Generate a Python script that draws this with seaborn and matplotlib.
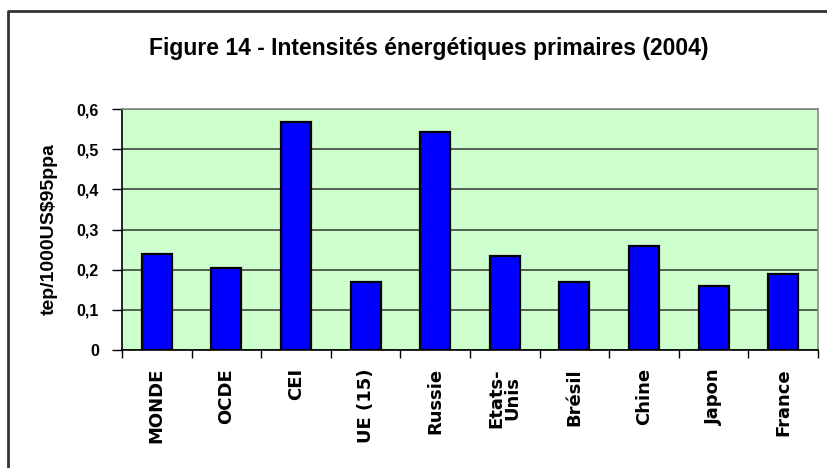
import matplotlib
matplotlib.use("Agg")
import matplotlib.pyplot as plt
from matplotlib.lines import Line2D
from matplotlib.ticker import FixedLocator, FuncFormatter
import pandas as pd
import seaborn as sns

# Données
pays = ["MONDE", "OCDE", "CEI", "UE (15)", "Russie", "Etats-\nUnis",
        "Brésil", "Chine", "Japon", "France"]
intensites = [0.238, 0.203, 0.568, 0.169, 0.543, 0.233, 0.169, 0.258, 0.159, 0.189]
graduations_y = [0, 0.1, 0.2, 0.3, 0.4, 0.5, 0.6]

titre = "Figure 14 - Intensités énergétiques primaires (2004)"
label_y = "tep/1000US$95ppa"

sns.set_style("white")
plt.rcParams["font.family"] = ["Liberation Sans", "DejaVu Sans"]
plt.rcParams["text.color"] = "black"
plt.rcParams["axes.labelcolor"] = "black"
plt.rcParams["xtick.color"] = "black"
plt.rcParams["ytick.color"] = "black"

df = pd.DataFrame({"pays": pays, "intensite": intensites})

fig = plt.figure(figsize=(8.28, 4.68), dpi=100)
ax = fig.add_axes([122 / 828, 1 - 350 / 468, (818 - 122) / 828, (350 - 109) / 468])
ax.set_facecolor("#CCFFCC")

sns.barplot(data=df, x="pays", y="intensite", color="#0000FF", saturation=1,
            edgecolor="black", linewidth=1.6, width=0.43, ax=ax, zorder=3)

ax.set_ylim(0, 0.6)
ax.set_xlim(-0.5, len(pays) - 0.5)

# Grille horizontale
ax.yaxis.set_major_locator(FixedLocator(graduations_y))
ax.grid(axis="y", color="#333333", linewidth=1.1, zorder=1)
ax.set_axisbelow(True)

def fmt_virgule(v, pos):
    if abs(v) < 1e-9:
        return "0"
    return f"{v:.1f}".replace(".", ",")

ax.yaxis.set_major_formatter(FuncFormatter(fmt_virgule))
ax.tick_params(axis="y", direction="out", length=7, width=1, color="black",
               pad=9.5, labelsize=11.5, left=True, labelcolor="black")
for lab in ax.get_yticklabels():
    lab.set_fontweight("bold")

# Graduations x entre les catégories
ax.set_xticks(range(len(pays)))
ax.set_xticklabels(pays, rotation=90, fontsize=13, fontweight="bold",
                   family=["DejaVu Sans"], va="top", ha="center",
                   linespacing=0.85, color="black")
ax.tick_params(axis="x", which="major", length=0, pad=13)
ax.set_xticks([i - 0.5 for i in range(len(pays) + 1)], minor=True)
ax.tick_params(axis="x", which="minor", direction="out", length=6,
               width=1, color="black", bottom=True)

ax.set_xlabel("")
ax.set_ylabel(label_y, fontsize=14, fontweight="bold", color="black")
ax.yaxis.set_label_coords(-0.093, 0.5)

for cote in ["top", "right"]:
    ax.spines[cote].set_color("#888888")
    ax.spines[cote].set_linewidth(1.2)
for cote in ["left", "bottom"]:
    ax.spines[cote].set_color("black")
    ax.spines[cote].set_linewidth(1.2)

fig.text(429 / 828, 1 - 48 / 468, titre, ha="center", va="center",
         fontsize=16.5, fontweight="bold", color="black")

# Cadre extérieur du graphique
fig.add_artist(Line2D([8 / 828, 8 / 828, 1.0], [0.0, 1 - 11 / 468, 1 - 11 / 468],
                      transform=fig.transFigure, color="#333333", linewidth=2))

fig.savefig("out.png", dpi=100)
plt.close(fig)
